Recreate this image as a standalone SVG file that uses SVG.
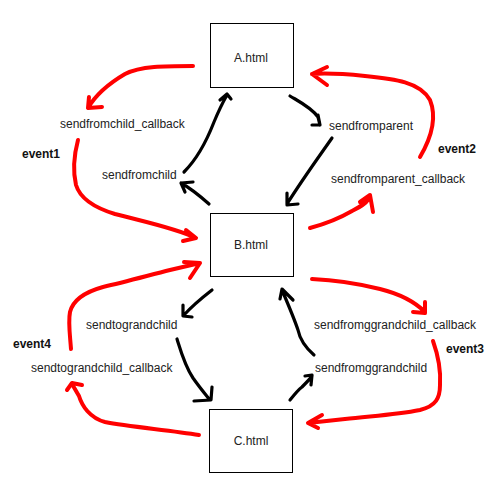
<svg xmlns="http://www.w3.org/2000/svg" width="500" height="500" viewBox="0 0 500 500">
<style>
text{font-family:"Liberation Sans",Arial,sans-serif;font-size:12px;fill:#222}
.ev{font-weight:bold;fill:#111}
.box{fill:#fff;stroke:#000;stroke-width:1}
.r{fill:none;stroke:#f00;stroke-width:4;stroke-linecap:round;stroke-linejoin:round}
.k{fill:none;stroke:#000;stroke-width:3.2;stroke-linecap:round;stroke-linejoin:round}
</style>
<rect width="500" height="500" fill="#fff"/>
<g id="nodeA"><rect class="box" x="210.5" y="23.5" width="83" height="64"/><text x="251" y="62" text-anchor="middle">A.html</text></g>
<g id="nodeB"><rect class="box" x="210.5" y="213.5" width="83" height="63"/><text x="251" y="249" text-anchor="middle">B.html</text></g>
<g id="nodeC"><rect class="box" x="209.5" y="409.5" width="83" height="63"/><text x="251" y="445" text-anchor="middle">C.html</text></g>
<g id="labels">
<text x="60" y="128">sendfromchild_callback</text>
<text class="ev" x="22" y="158">event1</text>
<text x="102" y="179">sendfromchild</text>
<text x="329" y="130">sendfromparent</text>
<text class="ev" x="438" y="153">event2</text>
<text x="331" y="183">sendfromparent_callback</text>
<text x="86" y="329">sendtograndchild</text>
<text class="ev" x="13" y="348">event4</text>
<text x="31" y="372">sendtograndchild_callback</text>
<text x="314" y="329">sendfromggrandchild_callback</text>
<text class="ev" x="446" y="353">event3</text>
<text x="315" y="372">sendfromggrandchild</text>
</g>
<g id="connectors">
<path class="r" d="M193,66 C165,66 140,66 125,74 C108,84 95,96 88,108 M89,97 L88,108 L102,107"/>
<path class="r" d="M78,140 C74,155 73,172 76,185 C80,198 92,207 115,214 C145,222 175,228 196,238 M186,230 L196,238 L183,241"/>
<path class="k" d="M184,172 C198,158 207,140 214,122 C219,110 223,102 227,95 M220,100 L227,94 L231,99"/>
<path class="k" d="M209,204 C200,196 190,188 181,183 M193,182 L181,183 L185,192"/>
<path class="k" d="M290,96 C300,102 312,108 318,117 L320,125 M312,125 L320,125 L318,115"/>
<path class="k" d="M332,138 C318,158 302,180 287,204 M287,193 L287,205 L298,204"/>
<path class="r" d="M420,157 C430,140 438,120 430,100 C420,82 395,79 365,76 C345,74 325,73 312,74 M327,67 L312,74 L327,85"/>
<path class="r" d="M310,228 C325,224 340,218 352,211 C362,206 368,202 370,196 M360,202 L370,195 L373,212"/>
<path class="k" d="M212,290 C203,297 193,305 184,315 M183,305 L183,316 L192,317"/>
<path class="k" d="M177,339 C181,352 185,366 193,378 C200,388 206,395 210,400 M212,387 L211,400 L194,401"/>
<path class="r" d="M199,435 C170,430 130,427 105,422 C90,418 82,406 79,396 L72,384 M67,390 L72,383 L82,385"/>
<path class="r" d="M71,349 C70,335 68,322 70,312 C73,300 85,292 103,287 C125,282 150,275 170,270 L200,263 M184,262 L200,263 L190,278"/>
<path class="k" d="M314,355 C306,348 300,340 298,330 C294,318 288,304 282,290 M280,299 L282,289 L293,300"/>
<path class="k" d="M290,400 C294,395 298,390 302,387 C307,382 310,379 312,376 M305,376 L312,375 L311,385"/>
<path class="r" d="M312,279 C335,280 360,284 380,289 C400,294 415,302 425,312 M413,312 L425,313 L425,302"/>
<path class="r" d="M433,341 C438,355 441,370 440,385 C440,398 436,406 420,410 C395,415 370,416 345,419 L308,423 M322,415 L308,423 L318,428"/>
</g>
</svg>
